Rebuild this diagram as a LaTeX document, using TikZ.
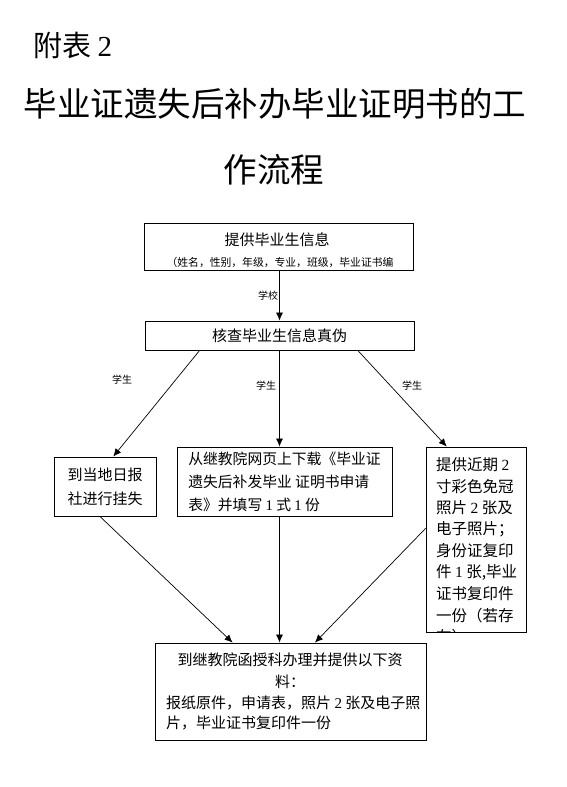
\documentclass[tikz,border=0pt]{standalone}
\usepackage{fontspec}
\setmainfont{Liberation Serif}
\newfontfamily\cjk{Noto Sans CJK SC}
\usetikzlibrary{arrows.meta,calc}
\newcommand\dg[1]{{\rmfamily #1}}
\begin{document}
\begin{tikzpicture}[x=1pt,y=-1pt,
  every node/.style={font=\cjk, inner sep=0pt},
  box/.style={draw, line width=0.8pt, rectangle},
  arr/.style={draw, line width=0.7pt, -{Latex[length=8pt,width=7pt]}},
  lbl/.style={font=\cjk\fontsize{10}{12}\selectfont},
  txt/.style={font=\cjk\fontsize{15}{22}\selectfont}
]
\useasboundingbox[fill=white] (0,0) rectangle (567,787);

% titles
\node[anchor=west, font=\cjk\fontsize{29}{34}\selectfont] (fb) at (33,45) {附表 \dg{2}};
\node[font=\cjk\fontsize{33.5}{40}\selectfont] (tt1) at (275,104) {毕业证遗失后补办毕业证明书的工};
\node[font=\cjk\fontsize{33.5}{40}\selectfont] (tt2) at (274,170) {作流程};

% box 1
\node[box, minimum width=269pt, minimum height=47pt] (b1) at (278.5,246.5) {};
\node[font=\cjk\fontsize{15}{18}\selectfont] (b1a) at (277,240) {提供毕业生信息};
\node[font=\cjk\fontsize{10.8}{13}\selectfont] (b1b) at (280,262) {（姓名，性别，年级，专业，班级，毕业证书编};

% box 2
\node[box, minimum width=269pt, minimum height=29pt, font=\cjk\fontsize{15}{18}\selectfont] (b2) at (279.5,335.5) {核查毕业生信息真伪};

% left box
\node[box, minimum width=102pt, minimum height=59pt, align=center, font=\cjk\fontsize{15}{24}\selectfont] (lb) at (105,486.5) {到当地日报\\社进行挂失};

% middle box
\node[box, minimum width=215pt, minimum height=69pt, align=left, font=\cjk\fontsize{14.8}{23}\selectfont] (mb) at (284.5,481.5)
  {从继教院网页上下载《毕业证\\遗失后补发毕业 证明书申请\\表》并填写 \dg{1} 式 \dg{1} 份};

% right box (text clipped)
\node[box, minimum width=100pt, minimum height=185pt] (rb) at (476,539.5) {};
\begin{scope}
  \clip (rb.north west) rectangle (rb.south east);
  \foreach \t [count=\i] in {提供近期 \dg{2},寸彩色免冠,照片 \dg{2} 张及,电子照片；,身份证复印,件 \dg{1} 张{,}毕业,证书复印件,一份（若存,在）}{
    \node[anchor=west, font=\cjk\fontsize{15.5}{18}\selectfont] (r\i) at (436,{465+21.5*(\i-1)}) {\t};
  }
\end{scope}

% bottom box
\node[box, minimum width=271pt, minimum height=97pt] (bb) at (290.5,691.5) {};
\node[txt] (bb1) at (290,660) {到继教院函授科办理并提供以下资};
\node[txt] (bb2) at (290,682) {料：};
\node[txt, anchor=west] (bb3) at (166,703) {报纸原件，申请表，照片 \dg{2} 张及电子照};
\node[txt, anchor=west] (bb4) at (166,723) {片，毕业证书复印件一份};

% connectors
\draw[arr] (b1.south -| b2.south) -- (b2.north) node[lbl, pos=0.5, left=1pt] (l0) {学校};
\draw[arr] ($(b2.south west)!0.204!(b2.south east)$) -- ($(lb.north west)!0.58!(lb.north east)$);
\draw[arr] (b2.south) -- (b2.south |- mb.north);
\draw[arr] ($(b2.south west)!0.79!(b2.south east)$) -- ($(rb.north west)!0.21!(rb.north east)$);
\node[lbl] (l1) at (122,380) {学生};
\node[lbl] (l2) at (266,386) {学生};
\node[lbl] (l3) at (412,386) {学生};

\draw[arr] ($(lb.south west)!0.45!(lb.south east)$) -- ($(bb.north west)!0.287!(bb.north east)$);
\draw[arr] (mb.south -| b2.south) -- (bb.north -| b2.south);
\draw[arr] ($(rb.north west)!0.44!(rb.south west)$) -- ($(bb.north west)!0.59!(bb.north east)$);
\end{tikzpicture}
\end{document}
